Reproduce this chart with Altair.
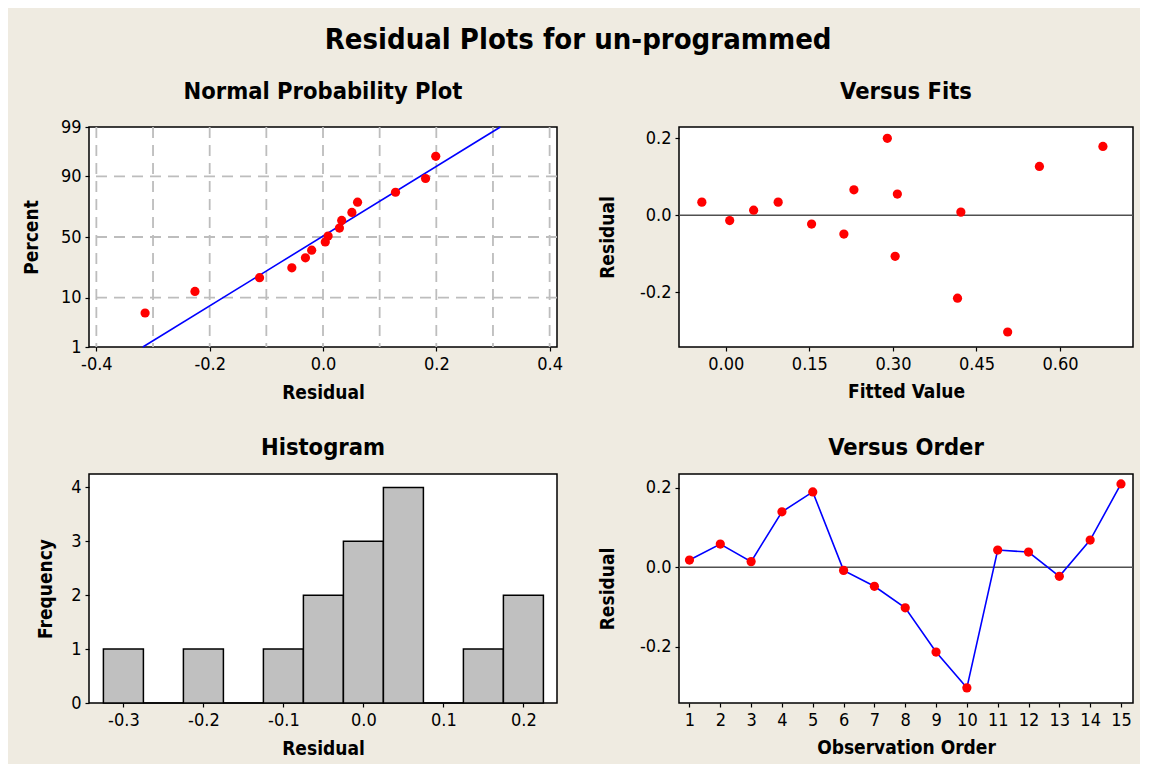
import altair as alt
import pandas as pd
from statistics import NormalDist

FONT = "DejaVu Sans Condensed, DejaVu Sans"
BG = "#EFEBE1"
RED = "#FF0000"
BLUE = "#0000FF"
GRID = "#BDBDBD"

# ---------------- data ----------------
# Normal probability plot (sorted residuals and their plotted percents)
normal_residual = [-0.314, -0.226, -0.112, -0.055, -0.031, -0.020, 0.004, 0.009,
                   0.029, 0.033, 0.051, 0.061, 0.128, 0.181, 0.199]
normal_percent = [5.4, 12.5, 19.5, 25.7, 33.0, 39.0, 45.8, 50.8,
                  57.5, 63.7, 69.8, 76.9, 82.8, 89.2, 95.6]
fit_line_residual = [-0.318, 0.313]
fit_line_percent = [1, 99]
normal_grid_residual = [-0.4, -0.3, -0.2, -0.1, 0.0, 0.1, 0.2, 0.3, 0.4]
normal_grid_percent = [10, 50, 90]
normal_tick_percent = [1, 10, 50, 90, 99]
normal_tick_residual = [-0.4, -0.2, 0.0, 0.2, 0.4]

# Versus fits
fitted_value = [-0.043, 0.007, 0.050, 0.094, 0.154, 0.212, 0.230, 0.290,
                0.308, 0.304, 0.422, 0.416, 0.506, 0.563, 0.677]
fits_residual = [0.034, -0.014, 0.013, 0.034, -0.023, -0.049, 0.066, 0.200,
                 0.055, -0.107, 0.008, -0.216, -0.304, 0.127, 0.179]
fits_tick_x = [0.00, 0.15, 0.30, 0.45, 0.60]
residual_ticks = [-0.2, 0.0, 0.2]
zero_reference = [0.0]

# Histogram
hist_center = [-0.30, -0.25, -0.20, -0.15, -0.10, -0.05, 0.00, 0.05, 0.10, 0.15, 0.20]
hist_count = [1, 0, 1, 0, 1, 2, 3, 4, 0, 1, 2]
hist_bin_width = 0.05
hist_tick_x = [-0.3, -0.2, -0.1, 0.0, 0.1, 0.2]
hist_tick_y = [0, 1, 2, 3, 4]

# Versus order
observation = list(range(1, 16))
order_residual = [0.018, 0.058, 0.014, 0.139, 0.189, -0.008, -0.048, -0.102,
                  -0.213, -0.303, 0.043, 0.038, -0.023, 0.068, 0.209]

# ---------------- helpers ----------------
nd = NormalDist()


def z(p):
    return nd.inv_cdf(p / 100.0)


def neg(fmt):
    return "replace(format(datum.value, '" + fmt + "'), '\u2212', '-')"


def sub_title(text, offset):
    return alt.TitleParams(text, font=FONT, fontSize=23.5, fontWeight="bold",
                           anchor="middle", frame="group", baseline="bottom",
                           offset=offset, color="black")


PT_SIZE = 85

# ---------------- Normal probability plot ----------------
df_norm = pd.DataFrame({"residual": normal_residual,
                        "z": [z(p) for p in normal_percent]})
df_line = pd.DataFrame({"residual": fit_line_residual,
                        "z": [z(p) for p in fit_line_percent]})
df_gv = pd.DataFrame({"residual": normal_grid_residual})
df_gh = pd.DataFrame({"z": [z(p) for p in normal_grid_percent]})

pct_expr = ("datum.value < -2 ? '1' : datum.value < -1 ? '10' : "
            "datum.value < 1 ? '50' : datum.value < 2 ? '90' : '99'")

X_norm = alt.X("residual:Q",
               scale=alt.Scale(domain=[-0.413, 0.413], nice=False, zero=False),
               axis=alt.Axis(title="Residual", values=normal_tick_residual,
                             labelExpr=neg(".1f"), titleY=51,
                             titleBaseline="alphabetic"))
Y_norm = alt.Y("z:Q",
               scale=alt.Scale(domain=[z(1), z(99)], nice=False, zero=False),
               axis=alt.Axis(title="Percent", values=[z(p) for p in normal_tick_percent],
                             labelExpr=pct_expr, titleX=-51.5,
                             titleBaseline="alphabetic"))

gv = alt.Chart(df_gv).mark_rule(color=GRID, strokeWidth=1.8, strokeDash=[11, 7]).encode(x=X_norm)
gh = alt.Chart(df_gh).mark_rule(color=GRID, strokeWidth=1.8, strokeDash=[11, 7]).encode(y=Y_norm)
nline = alt.Chart(df_line).mark_line(color=BLUE, strokeWidth=1.6).encode(x=X_norm, y=Y_norm)
npts = alt.Chart(df_norm).mark_circle(color=RED, size=PT_SIZE, opacity=1).encode(x=X_norm, y=Y_norm)

normal = alt.layer(gv, gh, nline, npts).properties(
    width=468, height=220, title=sub_title("Normal Probability Plot", -9))

# ---------------- Versus fits ----------------
df_fits = pd.DataFrame({"fitted": fitted_value, "residual": fits_residual})
df_zero = pd.DataFrame({"residual": zero_reference})

X_fits = alt.X("fitted:Q",
               scale=alt.Scale(domain=[-0.084, 0.731], nice=False, zero=False),
               axis=alt.Axis(title="Fitted Value", values=fits_tick_x,
                             labelExpr=neg(".2f"), titleY=50,
                             titleBaseline="alphabetic"))
Y_fits = alt.Y("residual:Q",
               scale=alt.Scale(domain=[-0.343, 0.2295], nice=False, zero=False),
               axis=alt.Axis(title="Residual", values=residual_ticks,
                             labelExpr=neg(".1f"), titleX=-65.5,
                             titleBaseline="alphabetic"))

fzero = alt.Chart(df_zero).mark_rule(color="#505050", strokeWidth=1.5).encode(y=Y_fits)
fpts = alt.Chart(df_fits).mark_circle(color=RED, size=PT_SIZE, opacity=1).encode(x=X_fits, y=Y_fits)
fits = alt.layer(fzero, fpts).properties(width=454, height=220,
                                         title=sub_title("Versus Fits", 0))

# ---------------- Histogram ----------------
df_hist = pd.DataFrame({"center": hist_center, "count": hist_count})
df_hist["left"] = df_hist["center"] - hist_bin_width / 2
df_hist["right"] = df_hist["center"] + hist_bin_width / 2

X_hist = alt.X("left:Q",
               scale=alt.Scale(domain=[-0.343, 0.242], nice=False, zero=False),
               axis=alt.Axis(title="Residual", values=hist_tick_x,
                             labelExpr=neg(".1f"), titleY=51,
                             titleBaseline="alphabetic"))
Y_hist = alt.Y("count:Q",
               scale=alt.Scale(domain=[0, 4.25], nice=False),
               axis=alt.Axis(title="Frequency", values=hist_tick_y, format="d",
                             titleX=-37.6, titleBaseline="alphabetic"))

hist = alt.Chart(df_hist).mark_rect(color="#C0C0C0", stroke="black", strokeWidth=1.5).encode(
    x=X_hist, x2="right:Q", y=Y_hist, y2=alt.datum(0)
).properties(width=468, height=229, title=sub_title("Histogram", -9.5))

# ---------------- Versus order ----------------
df_ord = pd.DataFrame({"obs": observation, "residual": order_residual})

X_ord = alt.X("obs:Q",
              scale=alt.Scale(domain=[0.66, 15.39], nice=False, zero=False),
              axis=alt.Axis(title="Observation Order", values=observation, format="d",
                            titleY=50, titleBaseline="alphabetic"))
Y_ord = alt.Y("residual:Q",
              scale=alt.Scale(domain=[-0.341, 0.234], nice=False, zero=False),
              axis=alt.Axis(title="Residual", values=residual_ticks,
                            labelExpr=neg(".1f"), titleX=-65.5,
                            titleBaseline="alphabetic"))

ozero = alt.Chart(df_zero).mark_rule(color="#505050", strokeWidth=1.5).encode(y=Y_ord)
oline = alt.Chart(df_ord).mark_line(color=BLUE, strokeWidth=1.6).encode(x=X_ord, y=Y_ord)
opts = alt.Chart(df_ord).mark_circle(color=RED, size=PT_SIZE, opacity=1).encode(x=X_ord, y=Y_ord)
order = alt.layer(ozero, oline, opts).properties(width=454, height=229,
                                                 title=sub_title("Versus Order", -9.5))

# ---------------- assemble ----------------
chart = alt.ConcatChart(
    concat=[normal, fits, hist, order],
    columns=2,
    spacing=alt.RowColnumber(row=127, column=122),
    bounds="flush",
    align="each",
    title=alt.TitleParams("Residual Plots for un-programmed", font=FONT, fontSize=29,
                          fontWeight="bold", anchor="middle", baseline="bottom",
                          offset=-5, color="black"),
    background=BG,
    padding={"left": 13, "top": 17, "right": 5, "bottom": 5},
).configure_axis(
    labelFont=FONT, labelFontSize=18, labelColor="black",
    titleFont=FONT, titleFontSize=19, titleFontWeight="bold", titleColor="black",
    tickColor="black", tickSize=4, tickWidth=1.2, domain=False, grid=False,
    labelPadding=4, labelFlush=False, labelOverlap=False,
).configure_view(fill="white", stroke="black", strokeWidth=1.5)

chart.save("out.html", embed_options={"renderer": "svg", "actions": False})
